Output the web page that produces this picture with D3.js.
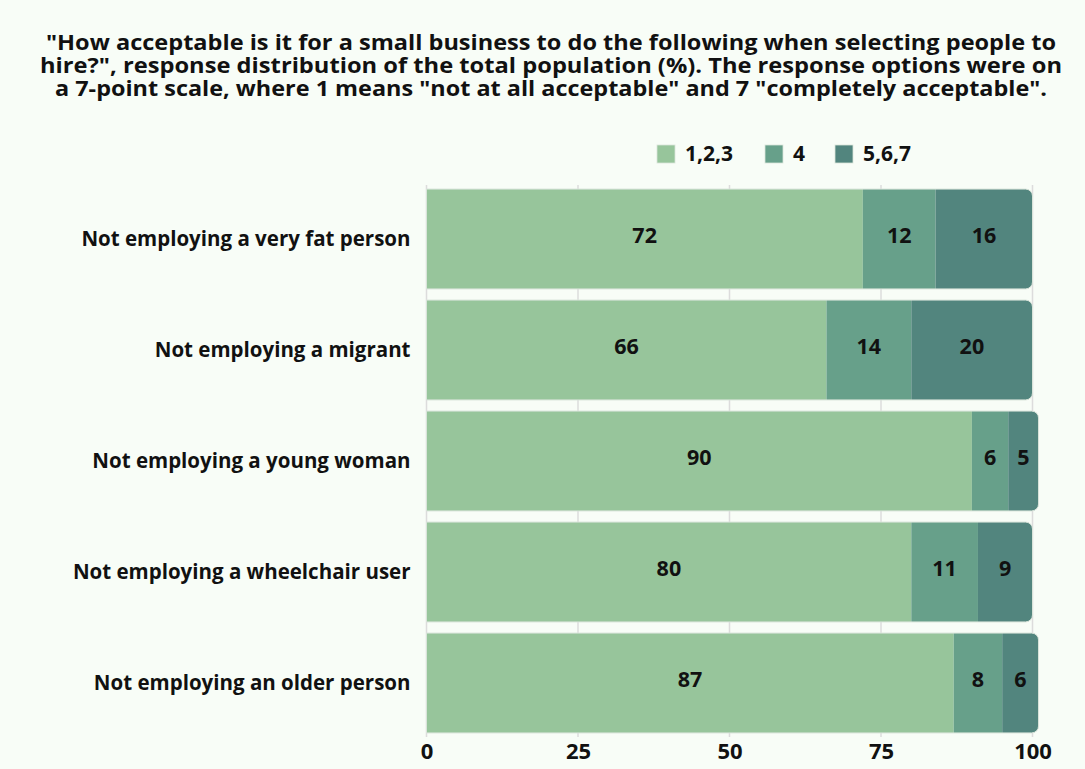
<!DOCTYPE html>
<html>
<head>
<meta charset="utf-8">
<script src="https://cdn.jsdelivr.net/npm/d3@7"></script>
<style>
  html, body { margin: 0; padding: 0; background: #f8fdf7; }
  svg { display: block; }
  text { font-family: "Open Sans", "Lato", sans-serif; fill: #111; }
</style>
</head>
<body>
<svg id="chart" width="1085" height="769"></svg>
<script>
// Survey items (rows, top to bottom)
const categories = [
  "Not employing a very fat person",
  "Not employing a migrant",
  "Not employing a young woman",
  "Not employing a wheelchair user",
  "Not employing an older person"
];
// Response groups on the 7-point scale
const seriesNames = ["1,2,3", "4", "5,6,7"];
// Share of respondents (%) per group, in category order
const notAcceptable = [72, 66, 90, 80, 87];
const neutral = [12, 14, 6, 11, 8];
const acceptable = [16, 20, 5, 9, 6];
const xTicks = [0, 25, 50, 75, 100];
const titleLines = [
  "\"How acceptable is it for a small business to do the following when selecting people to",
  "hire?\", response distribution of the total population (%). The response options were on",
  "a 7-point scale, where 1 means \"not at all acceptable\" and 7 \"completely acceptable\"."
];

const colors = ["#97c59b", "#67a08a", "#52857e"];

const rows = categories.map((c, i) => ({
  category: c,
  "1,2,3": notAcceptable[i],
  "4": neutral[i],
  "5,6,7": acceptable[i]
}));

const svg = d3.select("#chart");
const W = 1085, H = 769;
svg.append("rect").attr("width", W).attr("height", H).attr("fill", "#f8fdf7");

// Title: three centred lines fitted to fixed widths
const titleWidths = [1010, 1022, 992];
svg.append("g").selectAll("text")
  .data(titleLines)
  .join("text")
  .attr("x", 551)
  .attr("y", (d, i) => 49.5 + i * 23)
  .attr("text-anchor", "middle")
  .attr("font-family", "'Liberation Sans', Arial, sans-serif")
  .attr("font-size", 21.5)
  .attr("font-weight", 700)
  .attr("textLength", (d, i) => titleWidths[i])
  .attr("lengthAdjust", "spacingAndGlyphs")
  .text(d => d);

const x = d3.scaleLinear().domain([0, 100]).range([426.5, 1032.5]);
const y = d3.scaleBand().domain(categories).range([183.5, 738.5])
  .paddingInner(0.1).paddingOuter(0.05);

// Vertical grid lines
svg.append("g").selectAll("line")
  .data(xTicks)
  .join("line")
  .attr("x1", d => x(d)).attr("x2", d => x(d))
  .attr("y1", 185).attr("y2", 737)
  .attr("stroke", "#dcdcdc").attr("stroke-width", 1.5);

const stacked = d3.stack().keys(seriesNames)(rows);

// Each stacked bar is clipped to a shape rounded on its right end
const defs = svg.append("defs");
const r = 7;
rows.forEach((row, i) => {
  const total = seriesNames.reduce((s, k) => s + row[k], 0);
  const x0 = x(0), x1 = x(total), y0 = y(row.category), h = y.bandwidth();
  const p = d3.path();
  p.moveTo(x0, y0);
  p.lineTo(x1 - r, y0);
  p.arcTo(x1, y0, x1, y0 + r, r);
  p.lineTo(x1, y0 + h - r);
  p.arcTo(x1, y0 + h, x1 - r, y0 + h, r);
  p.lineTo(x0, y0 + h);
  p.closePath();
  defs.append("clipPath").attr("id", "clip" + i).append("path").attr("d", p.toString());
  row._outline = p.toString();
});

const barsG = svg.append("g");
rows.forEach((row, i) => {
  const g = barsG.append("g").attr("clip-path", `url(#clip${i})`);
  stacked.forEach((layer, li) => {
    const seg = layer[i];
    g.append("rect")
      .attr("x", x(seg[0]))
      .attr("y", y(row.category))
      .attr("width", x(seg[1]) - x(seg[0]))
      .attr("height", y.bandwidth())
      .attr("fill", colors[li]);
  });
  barsG.append("path").attr("d", row._outline)
    .attr("fill", "none").attr("stroke", "#d9e4da").attr("stroke-width", 1);
});

// Value labels
stacked.forEach((layer, li) => {
  svg.append("g").selectAll("text")
    .data(layer)
    .join("text")
    .attr("x", d => (x(d[0]) + x(d[1])) / 2)
    .attr("y", (d, i) => y(categories[i]) + y.bandwidth() / 2 - 4)
    .attr("dy", "0.35em")
    .attr("text-anchor", "middle")
    .attr("font-size", 21.5)
    .attr("font-weight", 700)
    .text(d => d[1] - d[0]);
});

// Category labels
const yAxis = svg.append("g")
  .attr("transform", `translate(${x(0)},0)`)
  .call(d3.axisLeft(y).tickSize(0).tickPadding(16));
yAxis.select(".domain").remove();
yAxis.selectAll("text")
  .attr("font-size", 20.5).attr("font-weight", 700)
  .attr("font-family", "'Open Sans', sans-serif").attr("fill", "#111");

// X axis ticks
const xAxis = svg.append("g")
  .attr("transform", `translate(0,${740})`)
  .call(d3.axisBottom(x).tickValues(xTicks).tickSize(0).tickPadding(3));
xAxis.select(".domain").remove();
xAxis.selectAll("text")
  .attr("font-size", 22).attr("font-weight", 700)
  .attr("font-family", "'Open Sans', sans-serif").attr("fill", "#111");

// Legend
const legendX = [657, 765, 835];
const legend = svg.append("g").selectAll("g")
  .data(seriesNames)
  .join("g")
  .attr("transform", (d, i) => `translate(${legendX[i]},145)`);
legend.append("rect")
  .attr("width", 18).attr("height", 18)
  .attr("fill", (d, i) => colors[i])
  .attr("stroke", "#d9e4da").attr("stroke-width", 0.8);
legend.append("text")
  .attr("x", 28).attr("y", 9).attr("dy", "0.35em")
  .attr("font-size", 21).attr("font-weight", 700)
  .text(d => d);
</script>
</body>
</html>
